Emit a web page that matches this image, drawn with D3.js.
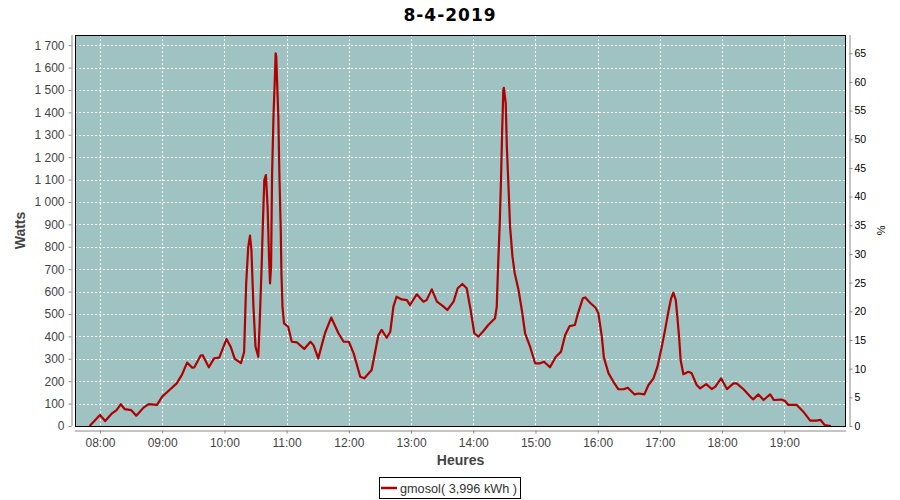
<!DOCTYPE html>
<html><head><meta charset="utf-8">
<script src="https://cdn.jsdelivr.net/npm/d3@7"></script>
<style>body{margin:0;background:#fff}svg{display:block}</style>
</head><body><svg id="c" width="900" height="500"></svg>
<script>
const chartTitle = "8-4-2019";
const xLabel = "Heures";
const yLabel = "Watts";
const y2Label = "%";
const legendLabel = "gmosol( 3,996 kWh )";

const times = [
 "07:50:00","07:55:00","08:00:00","08:05:00","08:11:00","08:16:00","08:20:00","08:24:00","08:30:00","08:35:00",
 "08:42:00","08:47:00","08:55:00","09:00:00","09:07:00","09:14:00","09:19:00","09:24:00","09:29:00","09:31:00",
 "09:37:00","09:39:00","09:45:00","09:50:00","09:55:00","10:02:00","10:06:00","10:10:00","10:16:00","10:19:00",
 "10:21:00","10:23:00","10:24:40","10:26:00","10:28:00","10:30:00","10:32:40","10:34:00","10:36:00","10:37:00",
 "10:38:30","10:40:00","10:41:40","10:43:00","10:44:00","10:45:00","10:46:00","10:47:20","10:48:50","10:49:25",
 "10:50:00","10:52:00","10:53:00","10:54:20","10:55:00","10:56:00","10:57:30","11:01:30","11:05:00","11:10:00",
 "11:17:00","11:23:00","11:26:00","11:30:30","11:37:00","11:43:00","11:50:00","11:55:00","12:00:00","12:04:40",
 "12:11:00","12:15:00","12:22:00","12:28:30","12:31:40","12:36:30","12:40:00","12:43:00","12:46:00","12:51:00",
 "12:56:00","12:59:00","13:05:30","13:12:00","13:15:00","13:20:00","13:25:00","13:30:30","13:35:00","13:41:00",
 "13:45:00","13:49:30","13:53:40","13:57:30","14:01:00","14:05:00","14:10:00","14:14:30","14:21:00","14:22:40",
 "14:24:10","14:25:40","14:26:50","14:27:50","14:29:00","14:29:30","14:31:20","14:32:20","14:34:00","14:35:30",
 "14:37:50","14:40:00","14:43:40","14:46:50","14:50:00","14:54:50","14:59:40","15:04:30","15:08:20","15:14:00",
 "15:19:40","15:24:40","15:28:40","15:33:00","15:38:00","15:41:00","15:45:40","15:48:00","15:52:40","15:58:00",
 "16:00:40","16:04:00","16:06:00","16:10:30","16:15:30","16:20:00","16:25:00","16:29:00","16:35:40","16:39:30",
 "16:45:00","16:49:00","16:53:50","16:57:40","17:01:50","17:05:00","17:08:10","17:10:50","17:13:00","17:15:20",
 "17:16:50","17:18:30","17:20:00","17:22:40","17:27:30","17:30:40","17:35:30","17:38:50","17:44:40","17:50:00",
 "17:53:30","17:59:00","18:04:40","18:11:00","18:14:00","18:20:40","18:28:40","18:30:00","18:35:00","18:40:00",
 "18:46:20","18:50:00","18:57:00","19:00:40","19:04:00","19:12:00","19:18:20","19:25:00","19:31:00","19:35:00",
 "19:39:00","19:45:00"
];
const watts = [
 0,25,49,22,54,71,97,75,71,46,
 82,98,94,131,161,190,228,283,260,262,
 314,316,262,302,305,388,354,300,281,330,
 637,800,850,790,533,354,309,458,726,890,
 1098,1120,979,756,637,711,1128,1381,1575,1664,
 1650,1381,1128,875,682,533,458,443,376,373,
 344,376,360,302,414,484,414,376,376,324,
 220,213,250,406,429,394,421,533,577,565,
 562,540,588,555,562,610,555,536,518,555,
 615,634,615,518,414,399,425,451,481,533,
 741,920,1113,1307,1500,1510,1441,1254,1068,890,
 756,682,607,518,414,354,280,280,287,262,
 309,332,406,446,451,503,570,574,550,528,
 503,399,305,235,195,164,164,171,141,145,
 141,183,213,265,354,429,510,570,595,562,
 488,399,295,231,242,235,183,168,187,165,
 176,213,165,190,190,164,124,119,141,116,
 141,116,118,112,94,94,64,24,24,27,
 4,0
];
const hourTicks = ["08:00","09:00","10:00","11:00","12:00","13:00","14:00","15:00","16:00","17:00","18:00","19:00"];
const wattTicks = [0,100,200,300,400,500,600,700,800,900,1000,1100,1200,1300,1400,1500,1600,1700];
const pctTicks = [0,5,10,15,20,25,30,35,40,45,50,55,60,65];
const xStart = "07:35:54", xEnd = "19:59:30";
const wattMax = 1745.5;
const peakPower = 2560;

const day = "2019-04-08T";
const parseT = s => new Date(day + (s.length === 5 ? s + ":00" : s));
const data = times.map((t, i) => ({t: parseT(t), w: watts[i]}));

const L = 75, R = 846, T = 35, B = 426;
const svg = d3.select("#c");
const x = d3.scaleTime().domain([parseT(xStart), parseT(xEnd)]).range([L, R]);
const y = d3.scaleLinear().domain([0, wattMax]).range([B, T]);
const y2 = d3.scaleLinear().domain([0, wattMax / peakPower * 100]).range([B, T]);
const font = "'Liberation Sans', Arial, sans-serif";

// plot background
svg.append("rect").attr("x", L).attr("y", T).attr("width", R - L).attr("height", B - T).attr("fill", "#9fc3c2");

// gridlines
const grid = svg.append("g").attr("stroke", "#fff").attr("stroke-width", 1).attr("stroke-dasharray", "2,2");
grid.selectAll("line.v").data(hourTicks.map(parseT)).join("line")
  .attr("x1", d => Math.round(x(d)) + 0.5).attr("x2", d => Math.round(x(d)) + 0.5)
  .attr("y1", T).attr("y2", B);
grid.selectAll("line.h").data(wattTicks.slice(1)).join("line")
  .attr("y1", d => Math.round(y(d)) + 0.5).attr("y2", d => Math.round(y(d)) + 0.5)
  .attr("x1", L).attr("x2", R);

// clip + line
svg.append("clipPath").attr("id", "clip").append("rect").attr("x", L).attr("y", T).attr("width", R - L).attr("height", B - T);
const line = d3.line().x(d => x(d.t)).y(d => y(d.w));
svg.append("path").datum(data).attr("clip-path", "url(#clip)")
  .attr("fill", "none").attr("stroke", "#b00000").attr("stroke-width", 2.2)
  .attr("stroke-linejoin", "round").attr("d", line);

// plot border
svg.append("rect").attr("x", L + 0.5).attr("y", T + 0.5).attr("width", R - L - 1).attr("height", B - T)
  .attr("fill", "none").attr("stroke", "#000").attr("stroke-width", 1);

// axes
const styleAxis = (g, col, size) => {
  g.select(".domain").attr("stroke", "#888");
  g.selectAll(".tick line").attr("stroke", "#888");
  g.selectAll(".tick text").attr("fill", col).style("font-family", font).style("font-size", size);
};
const gx = svg.append("g").attr("transform", `translate(0,${B + 4.5})`)
  .call(d3.axisBottom(x).tickValues(hourTicks.map(parseT)).tickFormat(d3.timeFormat("%H:%M")).tickSizeInner(3).tickSizeOuter(0).tickPadding(4.5));
styleAxis(gx, "#444", "12px");
gx.select(".domain").attr("d", `M${L},0.5H${R}`);

const fmtW = v => d3.format(",")(v).replace(/,/g, " ");
const gy = svg.append("g").attr("transform", `translate(${L - 3.5},0)`)
  .call(d3.axisLeft(y).tickValues(wattTicks).tickFormat(fmtW).tickSizeInner(3).tickSizeOuter(0).tickPadding(4));
styleAxis(gy, "#444", "12px");
gy.select(".domain").attr("d", `M0.5,${T}V${B}`);

const gy2 = svg.append("g").attr("transform", `translate(${R + 3.5},0)`)
  .call(d3.axisRight(y2).tickValues(pctTicks).tickSizeInner(3).tickSizeOuter(0).tickPadding(2));
styleAxis(gy2, "#000", "10.5px");
gy2.select(".domain").attr("d", `M0.5,${T}V${B}`);

// title and labels
svg.append("text").attr("x", 450).attr("y", 20.5).attr("text-anchor", "middle")
  .style("font-family", "'DejaVu Sans', sans-serif").style("font-weight", "bold").style("font-size", "17px")
  .style("letter-spacing", "1px").attr("fill", "#000").text(chartTitle);
svg.append("text").attr("x", (L + R) / 2).attr("y", 465).attr("text-anchor", "middle")
  .style("font-family", font).style("font-weight", "bold").style("font-size", "14px").attr("fill", "#444").text(xLabel);
svg.append("text").attr("transform", `translate(25,${(T + B) / 2}) rotate(-90)`).attr("text-anchor", "middle")
  .style("font-family", font).style("font-weight", "bold").style("font-size", "14px").attr("fill", "#444").text(yLabel);
svg.append("text").attr("transform", `translate(877,${(T + B) / 2}) rotate(90)`).attr("text-anchor", "middle")
  .style("font-family", font).style("font-size", "11px").attr("fill", "#000").text(y2Label);

// legend
const lg = svg.append("g");
lg.append("rect").attr("x", 379.5).attr("y", 477.5).attr("width", 141).attr("height", 21)
  .attr("fill", "#fff").attr("stroke", "#000").attr("stroke-width", 1);
lg.append("line").attr("x1", 381).attr("x2", 397).attr("y1", 488).attr("y2", 488)
  .attr("stroke", "#b00000").attr("stroke-width", 2.5);
lg.append("text").attr("x", 400).attr("y", 493).style("font-family", font).style("font-size", "12.7px")
  .attr("fill", "#333").text(legendLabel);
</script></body></html>
